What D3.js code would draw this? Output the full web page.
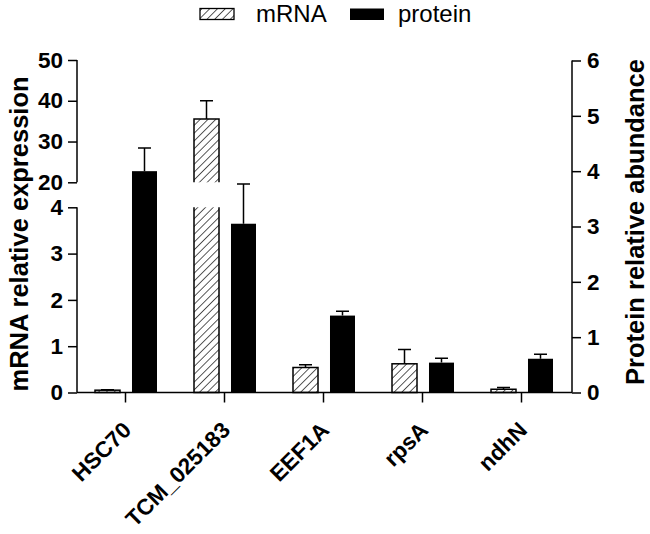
<!DOCTYPE html>
<html><head><meta charset="utf-8">
<script src="https://cdn.jsdelivr.net/npm/d3@7"></script>
<style>body{margin:0;background:#fff}svg{display:block}</style>
</head><body>
<svg id="c" width="650" height="534"></svg>
<script>
const categories = ["HSC70","TCM_025183","EEF1A","rpsA","ndhN"];
const mrnaValues = [0.05, 35.5, 0.54, 0.62, 0.07];
const mrnaErrors = [0.01, 4.5, 0.06, 0.31, 0.04];
const proteinValues = [4.0, 3.05, 1.39, 0.54, 0.61];
const proteinErrors = [0.42, 0.72, 0.08, 0.08, 0.08];
const leftTicksLow = [0,1,2,3,4];
const leftTicksHigh = [20,30,40,50];
const rightTicks = [0,1,2,3,4,5,6];
const seriesNames = ["mRNA","protein"];

const svg = d3.select("#c");
const font = "'Liberation Sans', Arial, sans-serif";

const defs = svg.append("defs");
const pat = defs.append("pattern").attr("id","hatch").attr("patternUnits","userSpaceOnUse")
  .attr("width",5.5).attr("height",5.5).attr("patternTransform","rotate(45)");
pat.append("rect").attr("width",5.5).attr("height",5.5).attr("fill","#fff");
pat.append("line").attr("x1",0).attr("y1",0).attr("x2",0).attr("y2",5.5).attr("stroke","#000").attr("stroke-width",1.3);

const x = d3.scaleBand().domain(categories).range([76, 571]).paddingInner(0).paddingOuter(0);
const xs = d3.scaleBand().domain(seriesNames).range([19, 81]).paddingInner(0.324).paddingOuter(0);
const yLow = d3.scaleLinear().domain([0,4]).range([392.5, 207.3]);
const yHigh = d3.scaleLinear().domain([20,50]).range([182.3, 60]);
const yR = d3.scaleLinear().domain([0,6]).range([392.5, 60.5]);

const axL = 77, axR = 572;

// mRNA bars
categories.forEach((c,i)=>{
  const v = mrnaValues[i], e = mrnaErrors[i];
  const x0 = x(c)+xs("mRNA"), w = xs.bandwidth();
  const g = svg.append("g");
  if (v <= 4) {
    g.append("rect").attr("x",x0).attr("y",yLow(v)).attr("width",w).attr("height",yLow(0)-yLow(v))
      .attr("fill","url(#hatch)").attr("stroke","#000").attr("stroke-width",1.5);
    g.append("path").attr("d",`M${x0+w/2},${yLow(v)}V${yLow(v+e)}M${x0+w/2-6.5},${yLow(v+e)}H${x0+w/2+6.5}`)
      .attr("stroke","#000").attr("stroke-width",1.5).attr("fill","none");
  } else {
    g.append("rect").attr("x",x0).attr("y",yLow(4)).attr("width",w).attr("height",yLow(0)-yLow(4)).attr("fill","url(#hatch)");
    g.append("path").attr("d",`M${x0},${yLow(4)}V${yLow(0)}H${x0+w}V${yLow(4)}`).attr("stroke","#000").attr("stroke-width",1.5).attr("fill","none");
    g.append("rect").attr("x",x0).attr("y",yHigh(v)).attr("width",w).attr("height",yHigh(20)-yHigh(v)).attr("fill","url(#hatch)");
    g.append("path").attr("d",`M${x0},${yHigh(20)}V${yHigh(v)}H${x0+w}V${yHigh(20)}`).attr("stroke","#000").attr("stroke-width",1.5).attr("fill","none");
    g.append("path").attr("d",`M${x0+w/2},${yHigh(v)}V${yHigh(v+e)}M${x0+w/2-6.5},${yHigh(v+e)}H${x0+w/2+6.5}`)
      .attr("stroke","#000").attr("stroke-width",1.5).attr("fill","none");
  }
});

// protein bars
categories.forEach((c,i)=>{
  const v = proteinValues[i], e = proteinErrors[i];
  const x0 = x(c)+xs("protein"), w = xs.bandwidth();
  svg.append("path").attr("d",`M${x0+w/2},${yR(v)}V${yR(v+e)}M${x0+w/2-6.5},${yR(v+e)}H${x0+w/2+6.5}`)
    .attr("stroke","#000").attr("stroke-width",1.5).attr("fill","none");
  svg.append("rect").attr("x",x0).attr("y",yR(v)).attr("width",w).attr("height",yR(0)-yR(v)).attr("fill","#000");
});

// axes
const gLlow = svg.append("g").attr("transform",`translate(${axL},0)`)
  .call(d3.axisLeft(yLow).tickValues(leftTicksLow).tickSize(9).tickPadding(5).tickFormat(d3.format("d")));
const gLhigh = svg.append("g").attr("transform",`translate(${axL},0)`)
  .call(d3.axisLeft(yHigh).tickValues(leftTicksHigh).tickSize(9).tickPadding(5).tickFormat(d3.format("d")));
const gR = svg.append("g").attr("transform",`translate(${axR},0)`)
  .call(d3.axisRight(yR).tickValues(rightTicks).tickSize(9).tickPadding(6).tickFormat(d3.format("d")));
[gLlow,gLhigh,gR].forEach(g=>{
  g.selectAll("line").attr("stroke","#000").attr("stroke-width",1.5);
  g.selectAll("text").attr("font-family",font).attr("font-weight","bold").attr("font-size",22.5).attr("fill","#000");
});
gLlow.select(".domain").attr("d",`M0,${yLow(4)}V${yLow(0)}`).attr("stroke","#000").attr("stroke-width",1.5).attr("fill","none");
gLhigh.select(".domain").attr("d",`M0,${yHigh(50)}V${yHigh(20)}`).attr("stroke","#000").attr("stroke-width",1.5).attr("fill","none");
gR.select(".domain").attr("d",`M0,${yR(6)}V${yR(0)}`).attr("stroke","#000").attr("stroke-width",1.5).attr("fill","none");

const gX = svg.append("g").attr("transform",`translate(0,${yLow(0)})`)
  .call(d3.axisBottom(x).tickSize(10).tickSizeOuter(0).tickPadding(6));
gX.select(".domain").attr("d",`M${axL},0H${axR}`).attr("stroke","#000").attr("stroke-width",1.5);
gX.selectAll(".tick line").attr("stroke","#000").attr("stroke-width",1.5);
gX.selectAll(".tick text").attr("font-family",font).attr("font-weight","bold").attr("font-size",22.5).attr("fill","#000")
  .attr("text-anchor","end").attr("dy",null).attr("y",null)
  .attr("transform","translate(7,39) rotate(-45)");

// axis titles
svg.append("text").attr("transform",`translate(28,234) rotate(-90)`).attr("text-anchor","middle")
  .attr("font-family",font).attr("font-weight","bold").attr("font-size",25.5).text("mRNA relative expression");
svg.append("text").attr("transform",`translate(644,222) rotate(-90)`).attr("text-anchor","middle")
  .attr("font-family",font).attr("font-weight","bold").attr("font-size",25.5).text("Protein relative abundance");

// legend
const leg = svg.append("g");
leg.append("rect").attr("x",200).attr("y",8.5).attr("width",34).attr("height",11).attr("fill","url(#hatch)").attr("stroke","#000").attr("stroke-width",1.3);
leg.append("text").attr("x",256).attr("y",21.5).attr("font-family",font).attr("font-size",24).text(seriesNames[0]);
leg.append("rect").attr("x",350).attr("y",8.5).attr("width",34).attr("height",11.5).attr("fill","#000");
leg.append("text").attr("x",398).attr("y",21.5).attr("font-family",font).attr("font-size",24).text(seriesNames[1]);
</script>
</body></html>
